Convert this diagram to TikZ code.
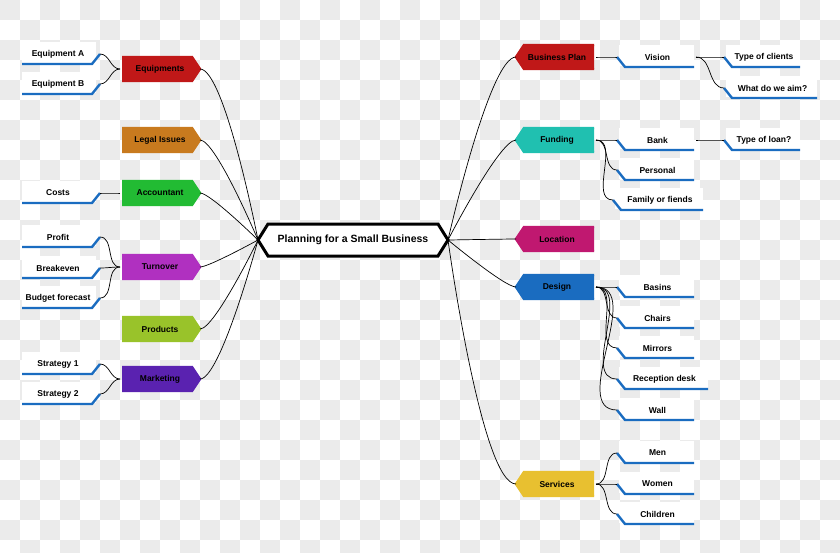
\documentclass[tikz,border=0pt]{standalone}
\usepackage{fontspec}
\setmainfont{Liberation Sans}
\begin{document}
\begin{tikzpicture}[x=1pt,y=-1pt,
  txt/.style={font=\bfseries\fontsize{8.5}{10}\selectfont,inner sep=1pt},
  conn/.style={black,line width=0.7pt},
  box/.style={line width=2.4pt,fill=white,line join=miter}]
\definecolor{bg}{HTML}{EBEBEB}
\definecolor{lblue}{HTML}{1A6CC0}
\definecolor{cred}{HTML}{C01818}
\definecolor{corange}{HTML}{C87A1E}
\definecolor{cgreen}{HTML}{22BB33}
\definecolor{cpurple}{HTML}{B030C0}
\definecolor{clime}{HTML}{99C32A}
\definecolor{cindigo}{HTML}{5A22B0}
\definecolor{cteal}{HTML}{20C0B0}
\definecolor{cmag}{HTML}{C01870}
\definecolor{cgold}{HTML}{E8C030}
\useasboundingbox (0,0) rectangle (840,552);
\fill[white] (0,0) rectangle (840,552);
\foreach \i in {0,...,41}{\foreach \j in {0,...,27}{
  \pgfmathtruncatemacro\myparity{mod(\i+\j,2)}
  \ifnum\myparity=0 \fill[bg] (\i*20,\j*20) rectangle ++(20,20);\fi}}
% centre
\draw[line width=3pt,fill=white] (258,240)--(268,224)--(438,224)--(448,240)--(438,256)--(268,256)--cycle;
\node[font=\bfseries\fontsize{10.5}{12}\selectfont] (c) at (353,240) {Planning for a Small Business};
\coordinate (cl) at (258,240); \coordinate (cr) at (448,240);
% left main nodes
\newcommand\lmain[4]{%
 \draw[box,#3] (122,#2-12)--(192,#2-12)--(200,#2)--(192,#2+12)--(122,#2+12);
 \node[txt] (#1) at (160,#2) {#4};
 \coordinate (#1r) at (200,#2); \coordinate (#1l) at (120,#2);
 \draw[conn] (cl) to[out=180,in=0,out looseness=0,in looseness=0.35] (#1r);}
\newcommand\lleaf[4]{%
 \fill[white] (22,#2-12) rectangle (96,#2+9);
 \draw[line width=2.4pt,lblue] (22,#2+10)--(92,#2+10)--(100,#2);
 \node[txt] (#1) at (58,#2) {#4};
 \coordinate (#1r) at (100,#2);
 \draw[conn] (#3l) to[out=180,in=0] (#1r);}
\lmain{eq}{69}{cred}{Equipments}
\lmain{legal}{140}{corange}{Legal Issues}
\lmain{acc}{193}{cgreen}{Accountant}
\lmain{turn}{267}{cpurple}{Turnover}
\lmain{prod}{329}{clime}{Products}
\lmain{mark}{379}{cindigo}{Marketing}
\lleaf{ea}{54}{eq}{Equipment A}
\lleaf{eb}{84}{eq}{Equipment B}
\lleaf{costs}{193}{acc}{Costs}
\lleaf{profit}{237}{turn}{Profit}
\lleaf{brk}{268}{turn}{Breakeven}
\lleaf{bud}{298}{turn}{Budget forecast}
\lleaf{s1}{364}{mark}{Strategy 1}
\lleaf{s2}{394}{mark}{Strategy 2}
% right main nodes
\newcommand\rmain[4]{%
 \draw[box,#3] (594,#2-12)--(524,#2-12)--(516,#2)--(524,#2+12)--(594,#2+12);
 \node[txt] (#1) at (557,#2) {#4};
 \coordinate (#1l) at (516,#2); \coordinate (#1r) at (596,#2);
 \draw[conn] (cr) to[out=0,in=180,out looseness=0,in looseness=0.35] (#1l);}
\newcommand\rleaf[6]{% name y parent x-left x-right text
 \fill[white] (#4+2,#2-12) rectangle (#5,#2+9);
 \draw[line width=2.4pt,lblue] (#4,#2)--(#4+8,#2+10)--(#5,#2+10);
 \node[txt] (#1) at ({(#4+#5)/2+2},#2) {#6};
 \coordinate (#1l) at (#4,#2); \coordinate (#1r) at (#5+2,#2);
 \draw[conn] (#3r) to[out=0,in=180] (#1l);}
\rmain{bp}{57}{cred}{Business Plan}
\rmain{fund}{140}{cteal}{Funding}
\rmain{loc}{239}{cmag}{Location}
\rmain{des}{287}{lblue}{Design}
\rmain{serv}{484}{cgold}{Services}
\rleaf{vis}{57}{bp}{617}{694}{Vision}
\rleaf{bank}{140}{fund}{617}{694}{Bank}
\rleaf{pers}{170}{fund}{617}{694}{Personal}
\rleaf{fam}{200}{fund}{613}{703}{Family or fiends}
\rleaf{bas}{287}{des}{617}{694}{Basins}
\rleaf{cha}{318}{des}{617}{694}{Chairs}
\rleaf{mir}{348}{des}{617}{694}{Mirrors}
\rleaf{rec}{379}{des}{617}{708}{Reception desk}
\rleaf{wall}{410}{des}{617}{694}{Wall}
\rleaf{men}{453}{serv}{617}{694}{Men}
\rleaf{wom}{484}{serv}{617}{694}{Women}
\rleaf{chi}{514}{serv}{617}{694}{Children}
\rleaf{toc}{57}{vis}{724}{800}{Type of clients}
\rleaf{aim}{88}{vis}{724}{817}{What do we aim?}
\rleaf{tol}{140}{bank}{724}{800}{Type of loan?}
\end{tikzpicture}
\end{document}
